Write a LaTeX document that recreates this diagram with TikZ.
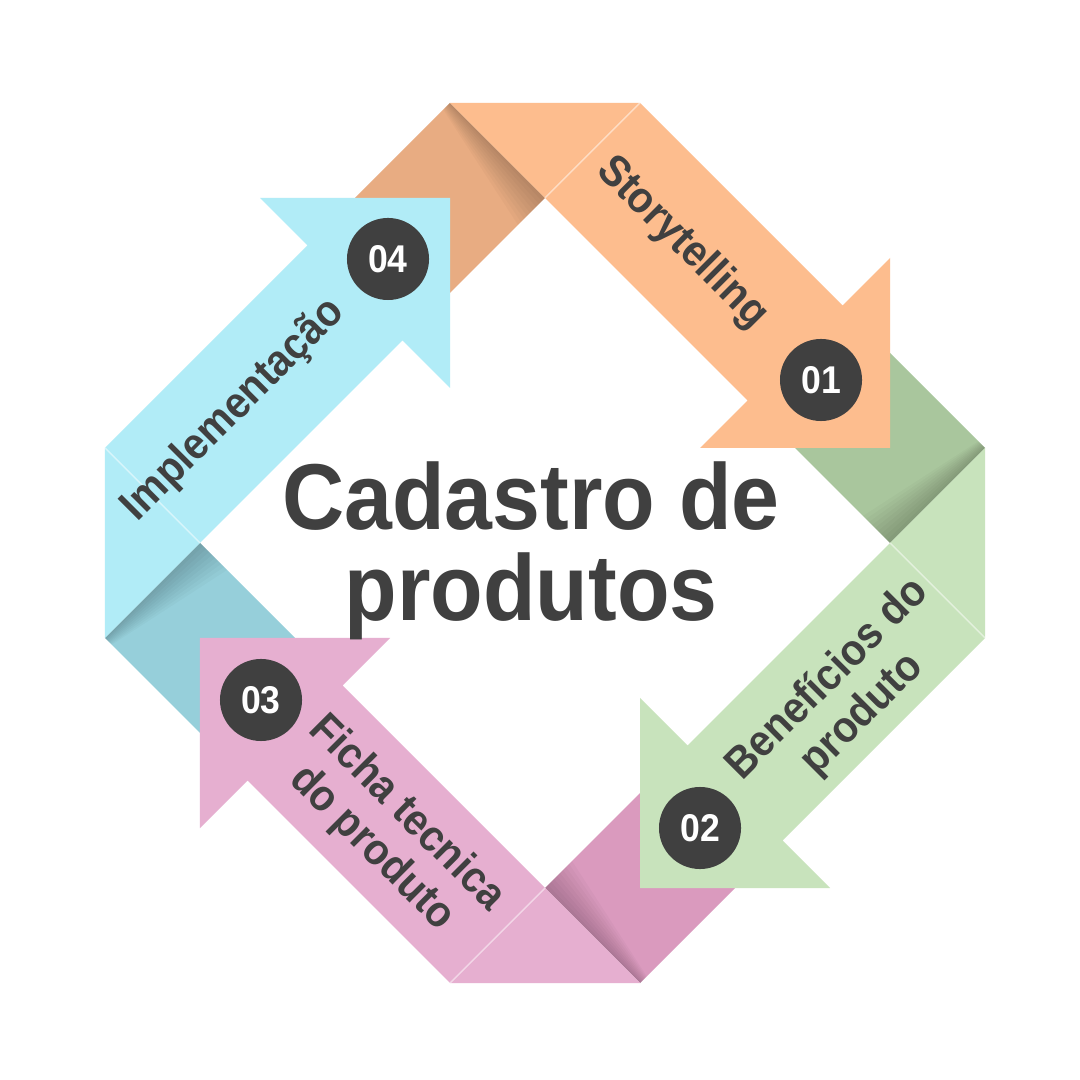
\documentclass[tikz,border=0pt]{standalone}
\usepackage{fontspec}
\setmainfont{Liberation Sans}[FakeStretch=0.92]
\usetikzlibrary{positioning,calc}
\definecolor{OrangeLite}{HTML}{FDBD8E}
\definecolor{OrangeDark}{HTML}{E8AC82}
\definecolor{GreenLite}{HTML}{C8E3BC}
\definecolor{GreenDark}{HTML}{A9C69D}
\definecolor{PinkLite}{HTML}{E6AFD0}
\definecolor{PinkDark}{HTML}{DA9ABE}
\definecolor{CyanLite}{HTML}{B1ECF7}
\definecolor{CyanDark}{HTML}{96CFDA}
\definecolor{InkGray}{HTML}{404040}

\begin{document}
\begin{tikzpicture}[x=0.01cm,y=0.01cm,
  ribbontext/.style={text=InkGray,font=\fontsize{12.5}{14}\selectfont\bfseries,align=center,inner sep=0pt},
  badge/.style={circle,fill=InkGray,text=white,minimum size=0.82cm,inner sep=0pt,font=\fontsize{11}{11}\selectfont\bfseries},
  titletext/.style={text=InkGray,font=\fontsize{26.6}{26}\selectfont\bfseries,inner sep=0pt}]
\useasboundingbox (-545,-537) rectangle (535,543);
\fill[white] (-545,-537) rectangle (535,543);
\foreach \ang/\dk in {0/OrangeDark,-90/GreenDark,180/PinkDark,90/CyanDark}{
  \fill[\dk,rotate=\ang] (-95,440) -- (0,345) -- (-95,250) -- (-190,345) -- cycle;
  \foreach \d in {3,6,...,27}
    \fill[black,opacity=0.022,rotate=\ang] (-95,440) -- (0,345) -- (-\d,345-\d)
      -- (-95-\d/4,440-\d/4) -- cycle;
}
\foreach \ang/\lt in {0/OrangeLite,-90/GreenLite,180/PinkLite,90/CyanLite}{
  \fill[\lt,rotate=\ang] (-95,440) -- (95,440) -- (297.5,237.5) -- (345,285) -- (345,95)
    -- (155,95) -- (202.5,142.5) -- (0,345) -- cycle;
  \draw[white,opacity=0.5,line width=0.4pt,rotate=\ang] (95,440) -- (0,345);
}
\node[titletext,anchor=base] (title1) at (-14,13) {Cadastro de};
\node[titletext,anchor=base] (title2) at ($(title1.base)+(0,-91)$) {produtos};
\node[ribbontext,rotate=-45] (story) at (137,300) {Storytelling};
\node[ribbontext,rotate=45] (benef) at (300,-154) {Benefícios do\\produto};
\node[ribbontext,rotate=-45] (ficha) at (-156,-288) {Ficha tecnica\\do produto};
\node[ribbontext,rotate=45] (implem) at (-311,133) {Implementação};
\node[badge] (n01) at (276,163) {01};
\node[badge] (n02) at (155,-285) {02};
\node[badge] (n03) at (-284,-157) {03};
\node[badge] (n04) at (-157,284) {04};
\end{tikzpicture}
\end{document}
